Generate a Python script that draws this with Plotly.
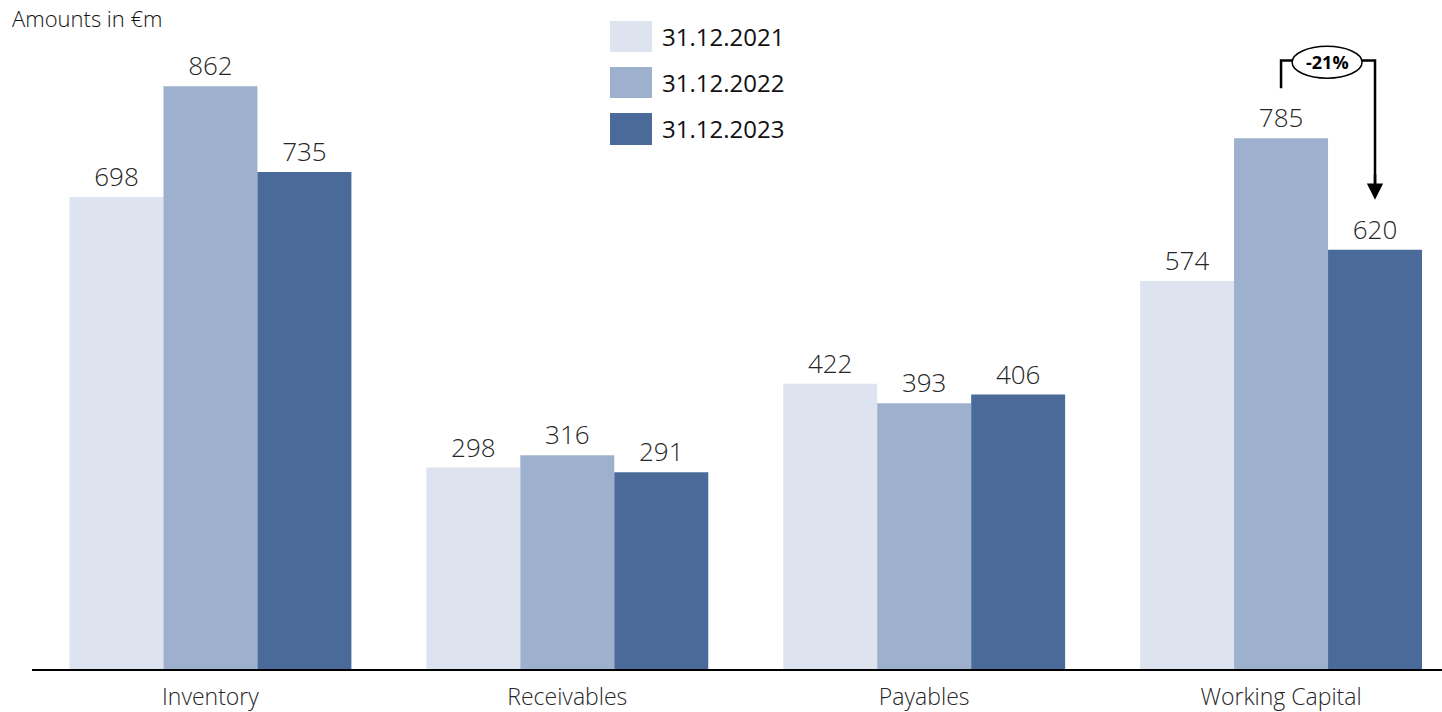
import plotly.graph_objects as go

categories = ['Inventory', 'Receivables', 'Payables', 'Working Capital']
series_names = ['31.12.2021', '31.12.2022', '31.12.2023']
values_2021 = [698, 298, 422, 574]
values_2022 = [862, 316, 393, 785]
values_2023 = [735, 291, 406, 620]
colors = ['#dee4ef', '#9db0cd', '#4a6a99']
change_label = '-21%'

FONT = 'Open Sans'
x_idx = list(range(len(categories)))

fig = go.Figure()
for name, vals, col in zip(series_names, [values_2021, values_2022, values_2023], colors):
    fig.add_trace(go.Bar(
        x=x_idx, y=vals, name=name, marker=dict(color=col, line=dict(width=0)),
        text=[str(v) for v in vals], textposition='outside', cliponaxis=False,
        textfont=dict(family=FONT, size=26, color='#262626', weight=300),
    ))

# custom legend (big swatches, stacked)
leg_y = [(21, 52), (67, 98), (113, 145)]
plot_top, plot_bot, plot_left, plot_w = 20, 669, 32, 1410
for (y0, y1), name, col in zip(leg_y, series_names, colors):
    fig.add_shape(type='rect', xref='paper', yref='paper',
                  x0=(610 - plot_left) / plot_w, x1=(652 - plot_left) / plot_w,
                  y0=(plot_bot - y1) / (plot_bot - plot_top), y1=(plot_bot - y0) / (plot_bot - plot_top),
                  fillcolor=col, line=dict(width=0))
    fig.add_annotation(xref='paper', yref='paper', x=(660 - plot_left) / plot_w,
                       y=(plot_bot - (y0 + y1) / 2) / (plot_bot - plot_top),
                       text=name, showarrow=False, xanchor='left', yanchor='middle',
                       font=dict(family=FONT, size=24, color='#111'))

# -21% bracket between 2022 and 2023 working capital bars
wc = 3
off = 94 / 357
y_top = 900
y_tip = 694
fig.add_shape(type='path', xref='x', yref='y',
              path=f'M {wc},859 L {wc},{y_top} L {wc + off},{y_top} L {wc + off},{y_tip + 15}',
              line=dict(color='black', width=2.5))
fig.add_annotation(x=wc + off, y=y_tip, ax=wc + off, ay=y_tip + 40, xref='x', yref='y',
                   axref='x', ayref='y', text='', showarrow=True, arrowhead=2, arrowsize=1.3,
                   arrowwidth=2.5, arrowcolor='black')
fig.add_shape(type='circle', xref='x', yref='y', x0=wc + 0.031, x1=wc + 0.227,
              y0=874, y1=921, fillcolor='white', line=dict(color='black', width=1.5))
fig.add_annotation(x=wc + 0.129, y=897.5, xref='x', yref='y', text='<b>' + change_label + '</b>',
                   showarrow=False, font=dict(family=FONT, size=18, color='black'))

fig.add_annotation(xref='paper', yref='paper', x=-22 / plot_w, y=1, xanchor='left', yanchor='middle',
                   yshift=2, text='Amounts in €m', showarrow=False,
                   font=dict(family=FONT, size=22, color='#111', weight=300))

fig.update_layout(
    width=1442, height=712, barmode='group', bargap=0.21, bargroupgap=0,
    margin=dict(l=32, r=0, t=20, b=43), showlegend=False,
    plot_bgcolor='white', paper_bgcolor='white',
    xaxis=dict(tickmode='array', tickvals=x_idx, ticktext=categories, range=[-0.5, 3.451],
               showline=True, linecolor='black', linewidth=2, showgrid=False, zeroline=False,
               ticks='', ticklabelstandoff=6, automargin=False,
               tickfont=dict(family=FONT, size=23, color='#262626', weight=300)),
    yaxis=dict(range=[0, 960], visible=False, automargin=False),
)
fig.write_html('out.html', config={'displayModeBar': False},
               post_script="document.body.style.margin='0';")
